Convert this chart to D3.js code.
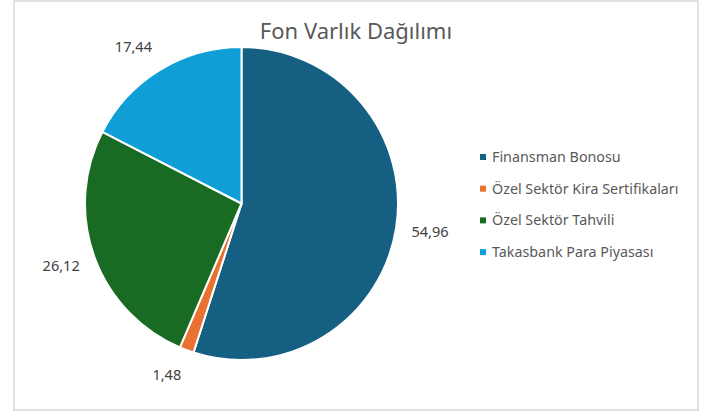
<!DOCTYPE html>
<meta charset="utf-8">
<style>
body { margin: 0; background: #fff; }
svg { display: block; font-family: "Noto Sans", "Open Sans", sans-serif; }
.title { fill: #595959; font-size: 22px; }
.label { fill: #404040; font-size: 14.5px; }
.legend text { fill: #595959; font-size: 14.3px; }
</style>
<svg width="701" height="414"></svg>
<script src="https://d3js.org/d3.v7.min.js"></script>
<script>
var categories = ["Finansman Bonosu", "Özel Sektör Kira Sertifikaları", "Özel Sektör Tahvili", "Takasbank Para Piyasası"];
var values = [54.96, 1.48, 26.12, 17.44];
var valueLabels = ["54,96", "1,48", "26,12", "17,44"];
var colors = ["#156082", "#E97132", "#196B24", "#0F9ED5"];

var svg = d3.select("svg");

// chart frame
svg.append("rect")
    .attr("x", 14).attr("y", 1)
    .attr("width", 684).attr("height", 409)
    .attr("fill", "#fff")
    .attr("stroke", "#d9d9d9")
    .attr("stroke-width", 1.5);

svg.append("text")
    .attr("class", "title")
    .attr("x", 356).attr("y", 39)
    .attr("text-anchor", "middle")
    .text("Fon Varlık Dağılımı");

var cx = 241.5, cy = 203.5, radius = 156.5;
var g = svg.append("g").attr("transform", "translate(" + cx + "," + cy + ")");

var data = categories.map(function(c, i) {
  return {name: c, value: values[i], label: valueLabels[i], color: colors[i]};
});

var pie = d3.pie().sort(null).value(function(d) { return d.value; });
var arc = d3.arc().innerRadius(0).outerRadius(radius);
var arcs = pie(data);

g.selectAll("path.slice")
    .data(arcs)
    .enter().append("path")
    .attr("class", "slice")
    .attr("d", arc)
    .attr("fill", function(d) { return d.data.color; })
    .attr("stroke", "#fff")
    .attr("stroke-width", 2);

var labelR = 172;
g.selectAll("text.label")
    .data(arcs)
    .enter().append("text")
    .attr("class", "label")
    .each(function(d) {
      var a = (d.startAngle + d.endAngle) / 2;
      var s = Math.sin(a), c = Math.cos(a);
      var x = s * labelR, y = -c * labelR - c * 11;
      d3.select(this)
        .attr("x", x)
        .attr("y", y)
        .attr("dy", "0.35em")
        .attr("text-anchor", s >= 0 ? "start" : "end")
        .text(d.data.label);
    });

var legend = svg.append("g").attr("class", "legend")
    .attr("transform", "translate(480,157)");

var rows = legend.selectAll("g")
    .data(data)
    .enter().append("g")
    .attr("transform", function(d, i) { return "translate(0," + (i * 31.7) + ")"; });

rows.append("rect")
    .attr("x", 0).attr("y", -3)
    .attr("width", 6).attr("height", 6)
    .attr("fill", function(d) { return d.color; });

rows.append("text")
    .attr("x", 12)
    .attr("dy", "0.35em")
    .text(function(d) { return d.name; });
</script>
